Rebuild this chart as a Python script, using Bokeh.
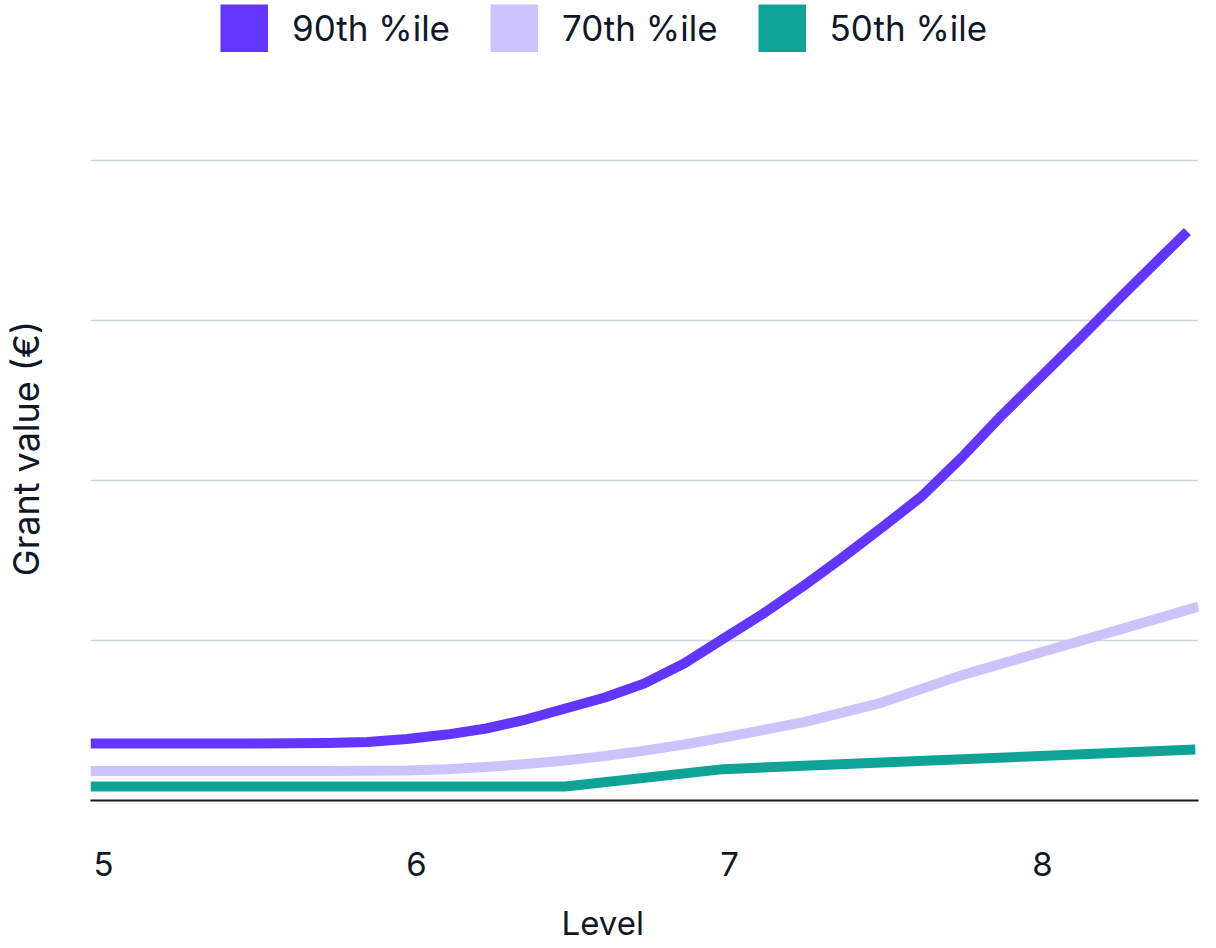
from bokeh.plotting import figure
from bokeh.layouts import column
from bokeh.models import (Range1d, FixedTicker, Legend, LegendItem, Title, LinearAxis)
from bokeh.embed import file_html
from bokeh.resources import INLINE

# ---- data (grant value, k€; the y axis shows no tick labels) ----
levels_90 = [5.0, 5.25, 5.5, 5.75, 5.875, 6.0, 6.125, 6.25, 6.375, 6.5, 6.625, 6.75, 6.875,
             7.0, 7.125, 7.25, 7.375, 7.5, 7.625, 7.75, 7.875, 8.0, 8.125, 8.25, 8.375, 8.465]
p90 = [17.8, 17.8, 17.8, 18.0, 18.3, 19.2, 20.6, 22.5, 25.3, 28.75, 32.2, 36.6, 42.8,
       50.6, 58.4, 66.9, 75.9, 85.3, 95.0, 107.0, 120.0, 132.2, 144.4, 156.9, 169.1, 177.8]
levels_70 = [5.0, 5.25, 5.5, 5.75, 6.0, 6.125, 6.25, 6.375, 6.5, 6.625, 6.75, 6.875,
             7.0, 7.25, 7.5, 7.75, 8.0, 8.25, 8.5]
p70 = [9.2, 9.2, 9.2, 9.2, 9.4, 9.8, 10.5, 11.4, 12.5, 13.9, 15.6, 17.5,
       19.7, 24.4, 30.6, 39.1, 46.25, 53.4, 60.6]
levels_50 = [5.0, 5.5, 6.0, 6.5, 7.0, 7.5, 8.0, 8.49]
p50 = [4.4, 4.4, 4.4, 4.4, 9.8, 11.9, 13.9, 15.9]
grid_values = [50, 100, 150, 200]
x_ticks = [5, 6, 7, 8]
series_names = ["90th %ile", "70th %ile", "50th %ile"]
series_x = [levels_90, levels_70, levels_50]
series_y = [p90, p70, p50]
colors = ["#6236FF", "#CCC3FD", "#0EA396"]

TEXT = "#101828"
FONT = "Inter"
W = 1200

# ---------------- legend strip ----------------
lg = figure(width=W, height=96, output_backend="svg", toolbar_location=None,
            x_range=Range1d(0, 1), y_range=Range1d(0, 1),
            x_axis_location=None, y_axis_location=None,
            min_border=0)
lg.outline_line_color = None
lg.grid.visible = False
items = []
for name, xs, ys, c in zip(series_names, series_x, series_y, colors):
    # one-point line: draws nothing in the strip, gives a square legend swatch
    r = lg.line(xs[:1], ys[:1], line_color=c, line_width=48, line_cap="butt")
    items.append(LegendItem(label=name, renderers=[r]))
legend = Legend(items=items, orientation="horizontal", location=(130, 44),
                glyph_width=48, glyph_height=48, label_standoff=24, spacing=40,
                padding=0, margin=0, border_line_color=None,
                background_fill_alpha=0,
                label_text_font=FONT, label_text_font_size="35px",
                label_text_color=TEXT, label_height=48)
lg.add_layout(legend, "center")

# ---------------- main chart ----------------
p = figure(width=W, height=850, output_backend="svg", toolbar_location=None,
           x_range=Range1d(5, 8.5), y_range=Range1d(0, 220),
           x_axis_location=None,
           min_border_left=90, min_border_right=2, min_border_top=0,
           min_border_bottom=146)
p.outline_line_color = None
p.background_fill_color = "white"
p.border_fill_color = "white"

p.xgrid.visible = False
p.ygrid.ticker = FixedTicker(ticks=grid_values)
p.ygrid.grid_line_color = "#CBD5E1"
p.ygrid.grid_line_width = 1.5

p.yaxis.ticker = FixedTicker(ticks=[])
p.yaxis.axis_line_color = None
p.yaxis.major_tick_line_color = None
p.yaxis.minor_tick_line_color = None
p.yaxis.axis_label = "Grant value (€)"
p.yaxis.axis_label_text_font = FONT
p.yaxis.axis_label_text_font_size = "36px"
p.yaxis.axis_label_text_font_style = "normal"
p.yaxis.axis_label_text_color = TEXT
p.yaxis.axis_label_standoff = 43

# x axis labels sit slightly right of the plotted level positions
p.extra_x_ranges = {"labels": Range1d(4.9585, 8.4985)}
xaxis = LinearAxis(x_range_name="labels", ticker=FixedTicker(ticks=x_ticks))
xaxis.axis_line_color = TEXT
xaxis.axis_line_width = 2
xaxis.major_tick_line_color = None
xaxis.minor_tick_line_color = None
xaxis.major_label_text_font = FONT
xaxis.major_label_text_font_size = "33px"
xaxis.major_label_text_color = TEXT
xaxis.major_label_standoff = 45
p.add_layout(xaxis, "below")

for xs, ys, c in zip(series_x, series_y, colors):
    p.line(xs, ys, line_color=c, line_width=10, line_join="round")

xt = Title(text="Level", align="left", offset=471, text_font=FONT,
           text_font_size="33px", text_font_style="normal", text_color=TEXT,
           standoff=0, padding=(0, 0, 22, 0))
p.add_layout(xt, "below")

layout = column(lg, p, spacing=0)
open("out.html", "w").write(file_html(layout, INLINE))
